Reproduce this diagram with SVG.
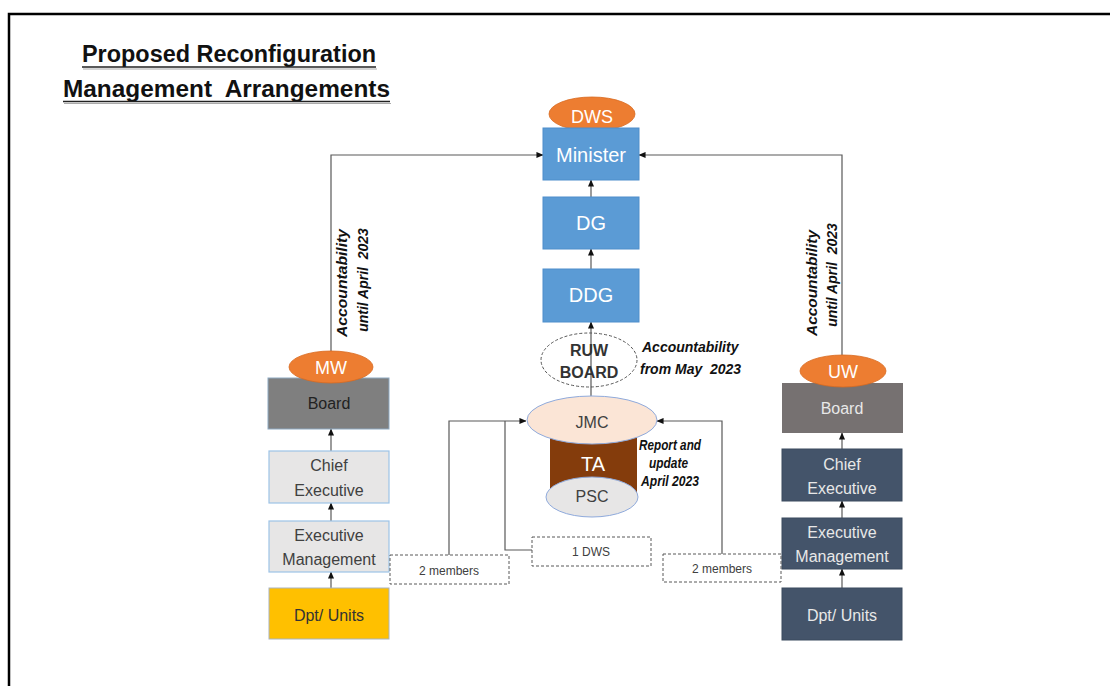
<svg xmlns="http://www.w3.org/2000/svg" width="1110" height="686" viewBox="0 0 1110 686">
  <style>
    text { font-family: "Liberation Sans", Arial, sans-serif; }
    .title { font-size: 23.5px; font-weight: bold; fill: #111; }
    .lbl { font-size: 16px; text-anchor: middle; }
    .big { font-size: 20px; text-anchor: middle; fill: #fff; }
    .oval { font-size: 18px; text-anchor: middle; fill: #fff; }
    .note { font-size: 14px; font-weight: bold; font-style: italic; fill: #111; }
    .small { font-size: 12px; text-anchor: middle; fill: #404040; }
    .dark { fill: #333; }
    .light { fill: #e8e8e8; }
    .conn { fill: none; stroke: #595959; stroke-width: 1.2; }
    .dash { fill: #fff; stroke: #595959; stroke-width: 1; stroke-dasharray: 3 2; }
    .blue { fill: #5b9bd5; stroke: #4f8ecb; stroke-width: 1; }
    .orange { fill: #ed7d31; stroke: #d86a1f; stroke-width: 0.8; }
    .greybox { fill: #e7e6e6; stroke: #9dc3e6; stroke-width: 1.2; }
    .navy { fill: #44546a; stroke: #3a4a5e; stroke-width: 1; }
  </style>
  <defs>
    <marker id="arrow" viewBox="0 0 8 8" refX="7.5" refY="4" markerWidth="7" markerHeight="7" markerUnits="userSpaceOnUse" orient="auto">
      <path d="M0,0.5 L8,4 L0,7.5 Z" fill="#111"/>
    </marker>
  </defs>

  <rect width="1110" height="686" fill="#fff"/>
  <!-- outer frame -->
  <path d="M9,700 V14 H1125" fill="none" stroke="#000" stroke-width="2.5"/>

  <!-- title -->
  <g id="title">
    <text class="title" x="82" y="62" textLength="294" lengthAdjust="spacingAndGlyphs">Proposed Reconfiguration</text>
    <text class="title" x="63" y="97" textLength="327" lengthAdjust="spacingAndGlyphs" xml:space="preserve">Management  Arrangements</text>
    <line x1="82" y1="67" x2="376" y2="67" stroke="#222" stroke-width="1.6"/>
    <line x1="83" y1="69" x2="377" y2="69" stroke="#aaa" stroke-width="1"/>
    <line x1="63" y1="101.5" x2="390" y2="101.5" stroke="#222" stroke-width="1.6"/>
    <line x1="64" y1="103.5" x2="391" y2="103.5" stroke="#aaa" stroke-width="1"/>
  </g>

  <!-- connectors -->
  <g id="connectors">
    <path class="conn" d="M331,351 V155 H543" marker-end="url(#arrow)"/>
    <path class="conn" d="M842,355 V155 H639" marker-end="url(#arrow)"/>
    <path class="conn" d="M591,197 V180" marker-end="url(#arrow)"/>
    <path class="conn" d="M591,269 V249" marker-end="url(#arrow)"/>
    <path class="conn" d="M591,396 V322" marker-end="url(#arrow)"/>
    <path class="conn" d="M331,451 V429" marker-end="url(#arrow)"/>
    <path class="conn" d="M331,521 V503" marker-end="url(#arrow)"/>
    <path class="conn" d="M331,588 V572" marker-end="url(#arrow)"/>
    <path class="conn" d="M842,449 V433" marker-end="url(#arrow)"/>
    <path class="conn" d="M842,518 V501" marker-end="url(#arrow)"/>
    <path class="conn" d="M842,588 V569" marker-end="url(#arrow)"/>
    <path class="conn" d="M449,555 V421 H526" marker-end="url(#arrow)"/>
    <path class="conn" d="M532,550 H505 V421"/>
    <path class="conn" d="M722,554 V421 H657" marker-end="url(#arrow)"/>
  </g>

  <!-- accountability notes -->
  <g id="notes">
    <text class="note" transform="translate(347,283) rotate(-90)" text-anchor="middle" font-size="15" textLength="108" lengthAdjust="spacingAndGlyphs">Accountability</text>
    <text class="note" transform="translate(368,280) rotate(-90)" text-anchor="middle" font-size="15" xml:space="preserve">until April  2023</text>
    <text class="note" transform="translate(817,283) rotate(-90)" text-anchor="middle" font-size="15" textLength="106" lengthAdjust="spacingAndGlyphs">Accountability</text>
    <text class="note" transform="translate(837,275) rotate(-90)" text-anchor="middle" font-size="15" xml:space="preserve">until April  2023</text>
    <text class="note" x="642" y="352">Accountability</text>
    <text class="note" x="640" y="374" xml:space="preserve">from May  2023</text>
    <text class="note" x="639" y="450" font-size="11.5" textLength="62" lengthAdjust="spacingAndGlyphs">Report and</text>
    <text class="note" x="649" y="468" font-size="11.5" textLength="39" lengthAdjust="spacingAndGlyphs">update</text>
    <text class="note" x="641" y="486" font-size="11.5" textLength="58" lengthAdjust="spacingAndGlyphs">April 2023</text>
  </g>

  <!-- central column -->
  <g id="dws">
    <ellipse class="orange" cx="592" cy="114" rx="43" ry="17"/>
    <text class="oval" x="592" y="123">DWS</text>
  </g>
  <g id="minister">
    <rect class="blue" x="543" y="128" width="96" height="52"/>
    <text class="big" x="591" y="162">Minister</text>
  </g>
  <g id="dg">
    <rect class="blue" x="543" y="197" width="96" height="52"/>
    <text class="big" x="591" y="230">DG</text>
  </g>
  <g id="ddg">
    <rect class="blue" x="543" y="269" width="96" height="53"/>
    <text class="big" x="591" y="302">DDG</text>
  </g>
  <g id="ruw-board">
    <ellipse cx="589" cy="360" rx="48" ry="27" fill="none" stroke="#555" stroke-width="1" stroke-dasharray="3 2"/>
    <text class="lbl dark" x="589" y="356" font-size="13" font-weight="bold">RUW</text>
    <text class="lbl dark" x="589" y="378" font-size="13" font-weight="bold">BOARD</text>
  </g>
  <g id="ta">
    <rect x="550" y="432" width="87" height="64" fill="#843c0c"/>
    <text class="big" x="593" y="471">TA</text>
  </g>
  <g id="psc">
    <ellipse cx="592" cy="497" rx="46" ry="20" fill="#e7e6e6" stroke="#8faadc" stroke-width="1"/>
    <text class="lbl" x="592" y="502" font-size="15" fill="#404040">PSC</text>
  </g>
  <g id="jmc">
    <ellipse cx="592" cy="420" rx="65" ry="24" fill="#fbe5d6" stroke="#8faadc" stroke-width="1"/>
    <text class="lbl" x="592" y="428" fill="#404040">JMC</text>
  </g>

  <!-- left column (MW) -->
  <g id="mw-board">
    <rect x="268" y="378" width="121" height="51" fill="#7f7f7f" stroke="#8ea9c1" stroke-width="1"/>
    <text class="lbl" x="329" y="409" fill="#222">Board</text>
  </g>
  <g id="mw">
    <ellipse class="orange" cx="331" cy="367" rx="42" ry="16"/>
    <text class="oval" x="331" y="374">MW</text>
  </g>
  <g id="mw-chief-executive">
    <rect class="greybox" x="269" y="451" width="120" height="52"/>
    <text class="lbl" x="329" y="471" fill="#404040">Chief</text>
    <text class="lbl" x="329" y="496" fill="#404040">Executive</text>
  </g>
  <g id="mw-executive-management">
    <rect class="greybox" x="269" y="521" width="120" height="51"/>
    <text class="lbl" x="329" y="541" fill="#404040">Executive</text>
    <text class="lbl" x="329" y="565" fill="#404040">Management</text>
  </g>
  <g id="mw-units">
    <rect x="269" y="588" width="120" height="51" fill="#ffc000" stroke="#a9b4bf" stroke-width="1"/>
    <text class="lbl" x="329" y="621" fill="#333">Dpt/ Units</text>
  </g>

  <!-- right column (UW) -->
  <g id="uw-board">
    <rect x="782" y="383" width="121" height="50" fill="#767171"/>
    <text class="lbl light" x="842" y="414">Board</text>
  </g>
  <g id="uw">
    <ellipse class="orange" cx="843" cy="371" rx="43" ry="16"/>
    <text class="oval" x="843" y="378">UW</text>
  </g>
  <g id="uw-chief-executive">
    <rect class="navy" x="782" y="449" width="120" height="52"/>
    <text class="lbl light" x="842" y="470">Chief</text>
    <text class="lbl light" x="842" y="494">Executive</text>
  </g>
  <g id="uw-executive-management">
    <rect class="navy" x="782" y="518" width="120" height="51"/>
    <text class="lbl light" x="842" y="538">Executive</text>
    <text class="lbl light" x="842" y="562">Management</text>
  </g>
  <g id="uw-units">
    <rect class="navy" x="782" y="588" width="120" height="52"/>
    <text class="lbl light" x="842" y="621">Dpt/ Units</text>
  </g>

  <!-- membership boxes -->
  <g id="members-left">
    <rect class="dash" x="390" y="555" width="119" height="29"/>
    <text class="small" x="449" y="575">2 members</text>
  </g>
  <g id="members-dws">
    <rect class="dash" x="532" y="537" width="119" height="29"/>
    <text class="small" x="591" y="556">1 DWS</text>
  </g>
  <g id="members-right">
    <rect class="dash" x="663" y="554" width="118" height="28"/>
    <text class="small" x="722" y="573">2 members</text>
  </g>
</svg>
